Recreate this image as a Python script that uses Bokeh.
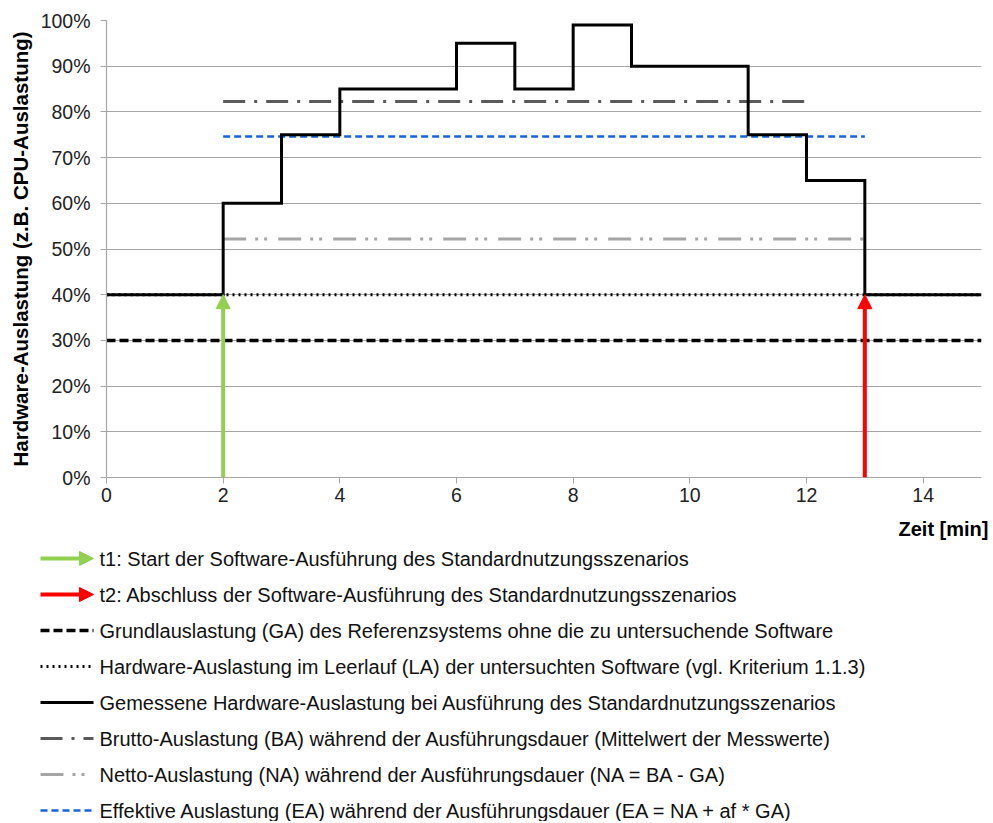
from bokeh.plotting import figure
from bokeh.models import Range1d, FixedTicker, PrintfTickFormatter, Arrow, NormalHead
from bokeh.core.properties import value
from bokeh.embed import file_html
from bokeh.resources import INLINE

# ---- data ----
time_min = [0, 2, 3, 4, 6, 7, 8, 9, 11, 12, 13, 15]
measured = [40, 60, 75, 85, 95, 85, 99, 90, 75, 65, 40, 40]
ga_level = 30.0       # Grundauslastung
la_level = 40.0       # Leerlauf
ba_level = 82.3       # Brutto
na_level = 52.2       # Netto
ea_level = 74.6       # Effektiv
ba_span = [2, 12]
na_span = [2, 13]
ea_span = [2, 13]
full_span = [0, 15]
t1 = 2
t2 = 13
x_ticks = [0, 2, 4, 6, 8, 10, 12, 14]
y_ticks = [0, 10, 20, 30, 40, 50, 60, 70, 80, 90, 100]

legend_labels = [
    "t1: Start der Software-Ausführung des Standardnutzungsszenarios",
    "t2: Abschluss der Software-Ausführung des Standardnutzungsszenarios",
    "Grundlauslastung (GA) des Referenzsystems ohne die zu untersuchende Software",
    "Hardware-Auslastung im Leerlauf (LA) der untersuchten Software (vgl. Kriterium 1.1.3)",
    "Gemessene Hardware-Auslastung bei Ausführung des Standardnutzungsszenarios",
    "Brutto-Auslastung (BA) während der Ausführungsdauer (Mittelwert der Messwerte)",
    "Netto-Auslastung (NA) während der Ausführungsdauer (NA = BA - GA)",
    "Effektive Auslastung (EA) während der Ausführungsdauer (EA = NA + af * GA)",
]

FONT = "Liberation Sans"
GREEN = "#92d050"
RED = "#ff0000"
BA_C = "#595959"
NA_C = "#a6a6a6"
EA_C = "#1763d8"
GRID = "#a6a6a6"

# styles: (color, width, dash)
styles = {
    "ga": ("black", 3.5, "9 4"),
    "la": ("black", 3, "2 4"),
    "meas": ("black", 3, "solid"),
    "ba": (BA_C, 3, "22 9 3 9"),
    "na": (NA_C, 3, "23 9 3 6 3 11"),
    "ea": (EA_C, 2.5, "7 4"),
}

W = 990
H_MAIN = 515
p = figure(width=W, height=H_MAIN, output_backend="svg", toolbar_location=None,
           x_range=Range1d(0, 15), y_range=Range1d(0, 100),
           min_border_left=106, min_border_right=9, min_border_top=20, min_border_bottom=38)
p.outline_line_color = None
p.xgrid.grid_line_color = None
p.ygrid.grid_line_color = GRID
p.ygrid.grid_line_width = 1.2

p.xaxis.ticker = FixedTicker(ticks=x_ticks)
p.yaxis.ticker = FixedTicker(ticks=y_ticks)
p.yaxis.formatter = PrintfTickFormatter(format="%d%%")
for ax in (p.xaxis, p.yaxis):
    ax.axis_line_color = GRID
    ax.axis_line_width = 1.2
    ax.major_tick_line_color = GRID
    ax.major_tick_out = 6
    ax.major_tick_in = 0
    ax.minor_tick_line_color = None
    ax.major_label_text_font = FONT
    ax.major_label_text_font_size = "19.5px"
    ax.major_label_text_color = "#222222"
p.xaxis.major_label_standoff = 4
p.yaxis.major_label_standoff = 10
p.yaxis.axis_label = "Hardware-Auslastung (z.B. CPU-Auslastung)"
p.yaxis.axis_label_text_font = FONT
p.yaxis.axis_label_text_font_style = "bold"
p.yaxis.axis_label_text_font_size = "20.5px"
p.yaxis.axis_label_text_color = "black"
p.yaxis.axis_label_standoff = 6

def hline(span, level, key):
    c, w, d = styles[key]
    p.line(span, [level, level], line_color=c, line_width=w, line_dash=d)

hline(full_span, ga_level, "ga")
hline(na_span, na_level, "na")
hline(ea_span, ea_level, "ea")
hline(ba_span, ba_level, "ba")
c, w, d = styles["meas"]
p.step(time_min, measured, mode="after", line_color=c, line_width=w, line_join="miter")
hline(full_span, la_level, "la")

for t, col in ((t1, GREEN), (t2, RED)):
    p.add_layout(Arrow(x_start=t, y_start=0, x_end=t, y_end=la_level,
                       line_color=col, line_width=4,
                       end=NormalHead(size=14, fill_color=col, line_color=col, line_width=1)))

# ---- legend figure (pixel coordinates), separate root so its frame is not aligned ----
H_LEG = 306
lg = figure(width=W, height=H_LEG, output_backend="svg", toolbar_location=None,
            x_range=Range1d(0, W), y_range=Range1d(H_LEG, 0),
            x_axis_location=None, y_axis_location=None, min_border=0)
lg.grid.visible = False
lg.outline_line_color = None

lg.text(x=[988], y=[13], text=["Zeit [min]"], text_baseline="middle", text_align="right",
        text_font=value(FONT), text_font_style="bold", text_font_size="20px",
        text_color="black")

rows = [43 + 36 * k for k in range(len(legend_labels))]
x0, x1 = 40, 93
lg.add_layout(Arrow(x_start=x0, y_start=rows[0], x_end=x1, y_end=rows[0], line_color=GREEN,
                    line_width=4, end=NormalHead(size=14, fill_color=GREEN, line_color=GREEN)))
lg.add_layout(Arrow(x_start=x0, y_start=rows[1], x_end=x1, y_end=rows[1], line_color=RED,
                    line_width=4, end=NormalHead(size=14, fill_color=RED, line_color=RED)))
for key, r in zip(["ga", "la", "meas", "ba", "na", "ea"], rows[2:]):
    c, w, d = styles[key]
    lg.line([x0, x1], [r, r], line_color=c, line_width=w, line_dash=d)

lg.text(x=[99] * len(legend_labels), y=rows, text=legend_labels,
        text_baseline="middle", text_align="left", text_font=value(FONT),
        text_font_size="20px", text_color="#111111")

open("out.html", "w").write(file_html([p, lg], INLINE))
